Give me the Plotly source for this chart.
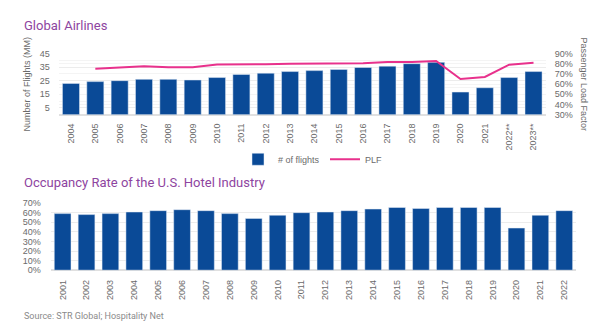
import plotly.graph_objects as go

years_air = ["2004", "2005", "2006", "2007", "2008", "2009", "2010", "2011", "2012", "2013",
             "2014", "2015", "2016", "2017", "2018", "2019", "2020", "2021", "2022**", "2023**"]
flights = [23.0, 24.3, 25.0, 26.0, 26.0, 25.5, 27.3, 29.6, 30.5, 31.7,
           32.4, 33.3, 34.7, 35.7, 37.5, 38.5, 16.6, 19.8, 27.3, 31.7]
plf_years = years_air[1:]
plf = [0.750, 0.764, 0.776, 0.764, 0.764, 0.792, 0.790, 0.795, 0.800,
       0.800, 0.805, 0.805, 0.817, 0.817, 0.827, 0.650, 0.670, 0.790, 0.810]

years_hotel = [str(y) for y in range(2001, 2023)]
occupancy = [0.591, 0.581, 0.591, 0.608, 0.622, 0.632, 0.622, 0.591, 0.541, 0.574, 0.601,
             0.608, 0.622, 0.639, 0.655, 0.645, 0.655, 0.655, 0.655, 0.440, 0.574, 0.622]

BLUE = "#0A4A97"
PINK = "#E8318C"
PURPLE = "#8E44A0"
GRAY = "#6b6b6b"
GRID = "#ececec"
TICKFONT = dict(family="Liberation Sans, Arial, sans-serif", size=9, color=GRAY)

fig = go.Figure()
fig.add_trace(go.Bar(x=years_air, y=flights, name="# of flights", marker_color=BLUE,
                     xaxis="x", yaxis="y"))
fig.add_trace(go.Scatter(x=plf_years, y=plf, name="PLF", mode="lines",
                         line=dict(color=PINK, width=2), xaxis="x", yaxis="y2"))
fig.add_trace(go.Bar(x=years_hotel, y=occupancy, name="Occupancy", marker_color=BLUE,
                     showlegend=False, xaxis="x2", yaxis="y3"))

W, H = 600, 335
def px(v):
    return v / W
def py(v):
    return 1 - v / H

fig.update_layout(
    width=W, height=H, margin=dict(l=0, r=0, t=0, b=0),
    paper_bgcolor="white", plot_bgcolor="white",
    bargap=0.3,
    font=TICKFONT,
    xaxis=dict(domain=[px(58.8), px(545.7)], anchor="y", tickangle=-90, tickfont=TICKFONT,
               showgrid=False, ticklabelstandoff=6, showline=False),
    yaxis=dict(domain=[py(113), py(50)], range=[0, 45], tick0=5, dtick=10, tickfont=TICKFONT,
               showgrid=True, gridcolor=GRID, zeroline=True, zerolinecolor="#e0e0e0",
               ticklabelstandoff=8,
               minor=dict(dtick=10, tick0=0, showgrid=True, gridcolor="#f4f4f4")),
    yaxis2=dict(overlaying="y", side="right", range=[0.3, 0.9], dtick=0.1, tickformat=".0%",
                tickfont=TICKFONT, showgrid=True, gridcolor="#f4f4f4", zeroline=False,
                ticklabelstandoff=8, anchor="x"),
    xaxis2=dict(domain=[px(50.7), px(576.2)], anchor="y3", tickangle=-90, tickfont=TICKFONT,
                showgrid=False, ticklabelstandoff=7),
    yaxis3=dict(domain=[py(273.3), py(204.3)], range=[0, 0.7], dtick=0.1, tickformat=".0%",
                tickfont=TICKFONT, showgrid=True, gridcolor=GRID, zeroline=True,
                zerolinecolor="#e0e0e0", ticklabelstandoff=9, anchor="x2"),
    legend=dict(orientation="h", x=px(238), y=py(159), xanchor="left", yanchor="middle",
                font=dict(family="Liberation Sans, Arial, sans-serif", size=9, color=GRAY),
                itemwidth=30, tracegroupgap=0, entrywidth=42),
)

TITLEFONT = dict(family="Roboto, sans-serif", size=13, color=PURPLE)
fig.add_annotation(text="Global Airlines", x=px(22), y=py(21), xref="paper", yref="paper",
                   xanchor="left", yanchor="middle", showarrow=False, font=TITLEFONT)
fig.add_annotation(text="Occupancy Rate of the U.S. Hotel Industry", x=px(22), y=py(183),
                   xref="paper", yref="paper", xanchor="left", yanchor="middle",
                   showarrow=False, font=TITLEFONT)
fig.add_annotation(text="Number of Flights (MM)", x=px(27), y=py(82), xref="paper", yref="paper",
                   textangle=-90, showarrow=False, xanchor="center", yanchor="middle",
                   font=dict(family="Liberation Sans, Arial, sans-serif", size=9, color=GRAY))
fig.add_annotation(text="Passenger Load Factor", x=px(584), y=py(82), xref="paper", yref="paper",
                   textangle=90, showarrow=False, xanchor="center", yanchor="middle",
                   font=dict(family="Liberation Sans, Arial, sans-serif", size=9, color=GRAY))
fig.add_annotation(text="Source: STR Global; Hospitality Net", x=px(22), y=py(321),
                   xref="paper", yref="paper", xanchor="left", yanchor="middle", showarrow=False,
                   font=dict(family="Roboto, sans-serif", size=9, color="#8a8a8a"))

fig.write_html("out.html")
